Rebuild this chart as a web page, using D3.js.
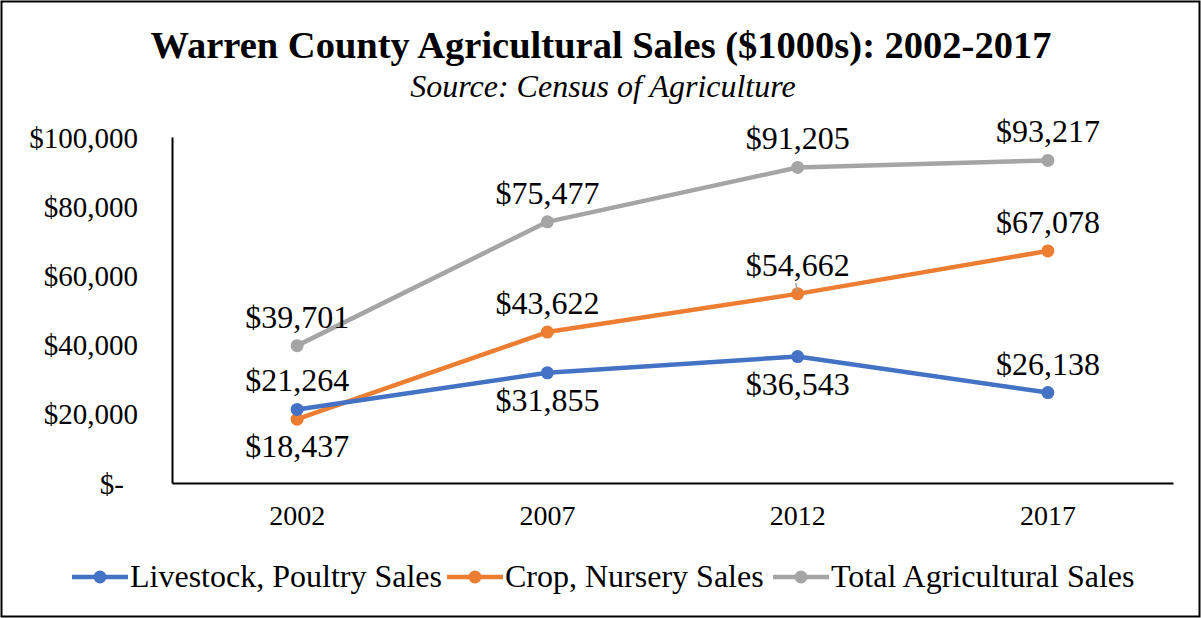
<!DOCTYPE html>
<html>
<head>
<meta charset="utf-8">
<script src="https://cdn.jsdelivr.net/npm/d3@7"></script>
<style>
  body { margin: 0; background: #fff; }
  text { font-family: "Liberation Serif", "Times New Roman", serif; fill: #000; }
</style>
</head>
<body>
<div id="chart"></div>
<script>
const width = 1201;
const height = 618;

const years = ["2002", "2007", "2012", "2017"];
const livestock = [21264, 31855, 36543, 26138];
const crop = [18437, 43622, 54662, 67078];
const total = [39701, 75477, 91205, 93217];
const seriesNames = ["Livestock, Poultry Sales", "Crop, Nursery Sales", "Total Agricultural Sales"];
const colors = ["#4472c4", "#ed7d31", "#a5a5a5"];
const yTicks = [0, 20000, 40000, 60000, 80000, 100000];

// label side for each point: -1 above, 1 below
const labelSide = [
  [-1, 1, 1, -1],
  [1, -1, -1, -1],
  [-1, -1, -1, -1]
];

const margin = { left: 172, right: 28, top: 137, bottom: 135 };

const svg = d3.select("#chart")
  .append("svg")
  .attr("width", width)
  .attr("height", height);

// outer frame
svg.append("rect")
  .attr("x", 1.5).attr("y", 1.5)
  .attr("width", width - 3).attr("height", height - 3)
  .attr("fill", "#fff")
  .attr("stroke", "#000")
  .attr("stroke-width", 2);

const x = d3.scaleBand()
  .domain(years)
  .range([margin.left, width - margin.right]);

const y = d3.scaleLinear()
  .domain([0, 100000])
  .range([height - margin.bottom, margin.top]);

// title
svg.append("text")
  .attr("x", 601).attr("y", 58)
  .attr("text-anchor", "middle")
  .attr("font-size", 38.5)
  .attr("font-weight", "bold")
  .text("Warren County Agricultural Sales ($1000s): 2002-2017");

svg.append("text")
  .attr("x", 603).attr("y", 97)
  .attr("text-anchor", "middle")
  .attr("font-size", 32)
  .attr("font-style", "italic")
  .text("Source: Census of Agriculture");

// axes
const fmt = d3.format(",");
const yAxis = svg.append("g")
  .attr("transform", `translate(${margin.left},0)`)
  .call(d3.axisLeft(y).tickValues(yTicks).tickSize(0).tickPadding(34)
    .tickFormat(d => d === 0 ? "$-" : "$" + fmt(d)));
yAxis.select(".domain").attr("stroke", "#000").attr("stroke-width", 2);
yAxis.selectAll("text")
  .attr("font-size", 29)
  .attr("dy", "0.35em");
yAxis.selectAll(".tick text").filter(d => d === 0).attr("dx", -14);

const xAxis = svg.append("g")
  .attr("transform", `translate(0,${height - margin.bottom})`)
  .call(d3.axisBottom(x).tickSize(0).tickPadding(22));
xAxis.select(".domain").attr("stroke", "#000").attr("stroke-width", 2);
xAxis.selectAll("text")
  .attr("font-size", 28);

// lines
const series = [livestock, crop, total];
const line = d3.line()
  .x((d, i) => x(years[i]) + x.bandwidth() / 2)
  .y(d => y(d));

// draw total first so others sit on top
[2, 1, 0].forEach(s => {
  svg.append("path")
    .datum(series[s])
    .attr("fill", "none")
    .attr("stroke", colors[s])
    .attr("stroke-width", 4.5)
    .attr("stroke-linejoin", "round")
    .attr("d", line);

  svg.selectAll(".pt" + s)
    .data(series[s])
    .enter()
    .append("circle")
    .attr("cx", (d, i) => x(years[i]) + x.bandwidth() / 2)
    .attr("cy", d => y(d))
    .attr("r", 6.5)
    .attr("fill", colors[s]);
});

// leader line for crop 2012 label
svg.append("line")
  .attr("x1", x("2012") + x.bandwidth() / 2 - 2)
  .attr("y1", y(crop[2]) - 11)
  .attr("x2", x("2012") + x.bandwidth() / 2)
  .attr("y2", y(crop[2]) - 2)
  .attr("stroke", "#a5a5a5")
  .attr("stroke-width", 1.5);

// data labels
series.forEach((vals, s) => {
  svg.selectAll(".lbl" + s)
    .data(vals)
    .enter()
    .append("text")
    .attr("x", (d, i) => x(years[i]) + x.bandwidth() / 2)
    .attr("y", (d, i) => y(d) + (labelSide[s][i] < 0 ? -18 : 38))
    .attr("text-anchor", "middle")
    .attr("font-size", 32)
    .text(d => "$" + fmt(d));
});

// legend
const legendX = [72, 447, 773];
const legend = svg.selectAll(".legend")
  .data(seriesNames)
  .enter()
  .append("g")
  .attr("transform", (d, i) => `translate(${legendX[i]},577)`);
legend.append("line")
  .attr("x1", 0).attr("x2", 56)
  .attr("stroke", (d, i) => colors[i])
  .attr("stroke-width", 4.5);
legend.append("circle")
  .attr("cx", 28).attr("r", 6.5)
  .attr("fill", (d, i) => colors[i]);
legend.append("text")
  .attr("x", 58).attr("y", 10)
  .attr("font-size", 32)
  .text(d => d);
</script>
</body>
</html>
